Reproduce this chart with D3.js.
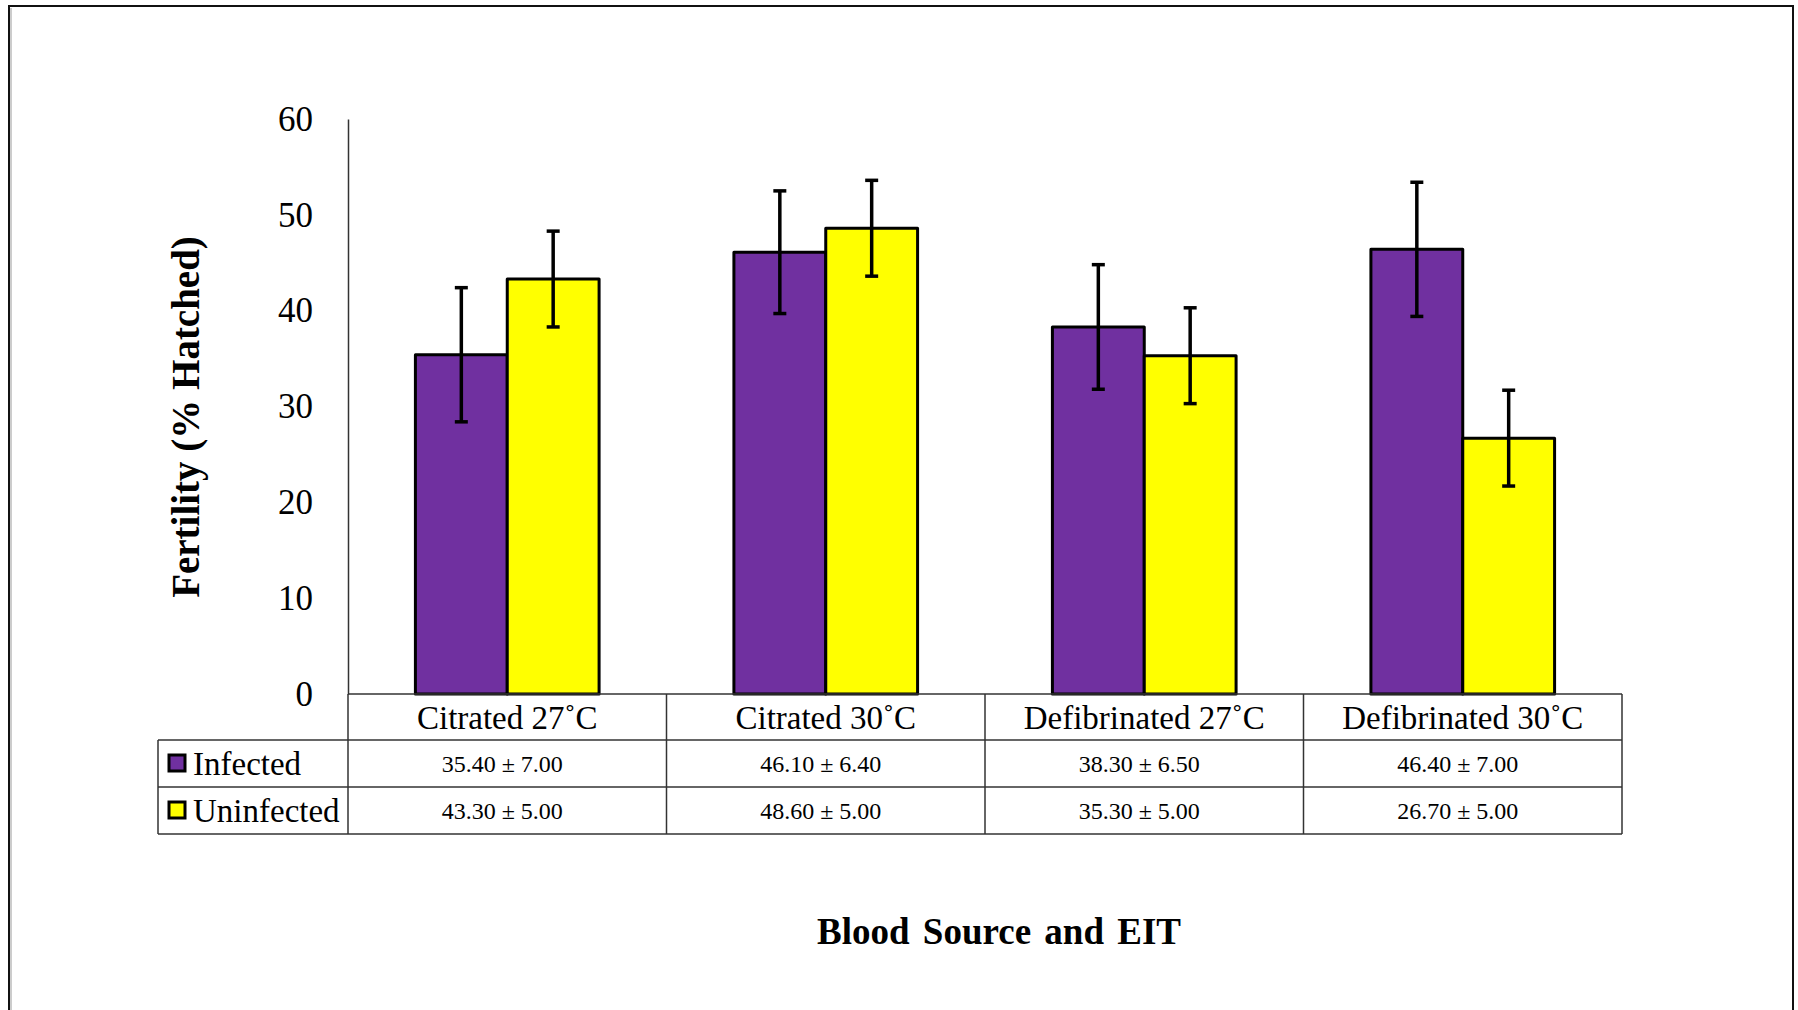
<!DOCTYPE html>
<html>
<head>
<meta charset="utf-8">
<script src="https://cdn.jsdelivr.net/npm/d3@7"></script>
<style>
  html, body { margin: 0; padding: 0; background: #fff; }
  svg { display: block; }
  text { font-family: "Liberation Serif", "Times New Roman", serif; fill: #000; }
</style>
</head>
<body>
<svg id="chart" width="1798" height="1010"></svg>
<script>
// ---- data ----
const categories = ["Citrated 27\u02DAC", "Citrated 30\u02DAC", "Defibrinated 27\u02DAC", "Defibrinated 30\u02DAC"];
const seriesNames = ["Infected", "Uninfected"];
const infectedValues = [35.40, 46.10, 38.30, 46.40];
const infectedErrors = [7.00, 6.40, 6.50, 7.00];
const uninfectedValues = [43.30, 48.60, 35.30, 26.70];
const uninfectedErrors = [5.00, 5.00, 5.00, 5.00];
const seriesColors = ["#7030A0", "#FFFF00"];
const yTicks = [0, 10, 20, 30, 40, 50, 60];
const yTitle = "Fertility (% Hatched)";
const xTitle = "Blood Source and EIT";

const series = [
  { name: seriesNames[0], values: infectedValues, errors: infectedErrors, color: seriesColors[0] },
  { name: seriesNames[1], values: uninfectedValues, errors: uninfectedErrors, color: seriesColors[1] }
];

// ---- layout ----
const svg = d3.select("#chart");
const plotLeft = 348, plotRight = 1622, plotTop = 119, plotBottom = 694;
const tableLeft = 158;
const headerH = 46, rowH = 47;
const lineColor = "#333";

// frame
svg.append("rect").attr("x", 9).attr("y", 6).attr("width", 1784).attr("height", 1030)
  .attr("fill", "none").attr("stroke", "#111").attr("stroke-width", 2);
svg.append("line").attr("x1", 11).attr("x2", 11).attr("y1", 8).attr("y2", 1010)
  .attr("stroke", "#ccc").attr("stroke-width", 2);

// scales
const y = d3.scaleLinear().domain([0, 60]).range([plotBottom, plotTop]);
const x0 = d3.scaleBand().domain(categories).range([plotLeft, plotRight]).padding(0);
const x1 = d3.scaleBand().domain(seriesNames).range([0, x0.bandwidth()])
  .paddingInner(0).paddingOuter(0.734);

// y axis
const yAxis = d3.axisLeft(y).tickValues(yTicks).tickSize(0).tickPadding(35).tickFormat(d3.format("d"));
const yg = svg.append("g").attr("transform", `translate(${plotLeft},0)`).call(yAxis);
yg.select(".domain").attr("stroke", lineColor).attr("stroke-width", 1.5);
yg.selectAll("text").style("font-family", "'Liberation Serif', serif").style("font-size", "35px")
  .attr("fill", "#000");

// bars
const groups = svg.append("g").selectAll("g").data(series).join("g");
groups.selectAll("rect").data(s => s.values.map((v, i) => ({ s, v, i })))
  .join("rect")
  .attr("x", d => x0(categories[d.i]) + x1(d.s.name))
  .attr("y", d => y(d.v))
  .attr("width", x1.bandwidth())
  .attr("height", d => y(0) - y(d.v))
  .attr("fill", d => d.s.color)
  .attr("stroke", "#000").attr("stroke-width", 3).attr("stroke-linejoin", "round");

// error bars
const capW = 13;
series.forEach(s => {
  s.values.forEach((v, i) => {
    const cx = x0(categories[i]) + x1(s.name) + x1.bandwidth() / 2;
    const e = s.errors[i];
    const g = svg.append("g").attr("stroke", "#000").attr("stroke-width", 3.5);
    g.append("line").attr("x1", cx).attr("x2", cx).attr("y1", y(v + e)).attr("y2", y(v - e));
    g.append("line").attr("x1", cx - capW / 2).attr("x2", cx + capW / 2).attr("y1", y(v + e)).attr("y2", y(v + e));
    g.append("line").attr("x1", cx - capW / 2).attr("x2", cx + capW / 2).attr("y1", y(v - e)).attr("y2", y(v - e));
  });
});

// data table
const table = svg.append("g").attr("stroke", lineColor).attr("stroke-width", 1.5);
const row1 = plotBottom + headerH, row2 = row1 + rowH, row3 = row2 + rowH;
table.append("line").attr("x1", plotLeft).attr("x2", plotRight).attr("y1", plotBottom).attr("y2", plotBottom);
[row1, row2, row3].forEach(yy => {
  table.append("line").attr("x1", tableLeft).attr("x2", plotRight).attr("y1", yy).attr("y2", yy);
});
const colEdges = categories.map(c => x0(c)).concat([plotRight]);
colEdges.forEach(xx => {
  table.append("line").attr("x1", xx).attr("x2", xx).attr("y1", plotBottom).attr("y2", row3);
});
table.append("line").attr("x1", tableLeft).attr("x2", tableLeft).attr("y1", row1).attr("y2", row3);

// category labels
svg.append("g").selectAll("text").data(categories).join("text")
  .attr("x", d => x0(d) + x0.bandwidth() / 2)
  .attr("y", plotBottom + headerH / 2)
  .attr("dy", "0.35em")
  .attr("text-anchor", "middle")
  .style("font-size", "33px")
  .text(d => d);

// values rows
const fmt = d3.format(".2f");
series.forEach((s, si) => {
  const rowTop = row1 + si * rowH;
  svg.append("g").selectAll("text").data(s.values).join("text")
    .attr("x", (d, i) => x0(categories[i]) + x0.bandwidth() / 2 - 5)
    .attr("y", rowTop + rowH / 2)
    .attr("dy", "0.35em")
    .attr("text-anchor", "middle")
    .style("font-size", "24px")
    .text((d, i) => `${fmt(d)} \u00B1 ${fmt(s.errors[i])}`);
  svg.append("rect")
    .attr("x", 169).attr("y", rowTop + rowH / 2 - 8.5)
    .attr("width", 16).attr("height", 16)
    .attr("fill", s.color).attr("stroke", "#000").attr("stroke-width", 3);
  svg.append("text")
    .attr("x", 193).attr("y", rowTop + rowH / 2)
    .attr("dy", "0.35em")
    .style("font-size", "33px")
    .text(s.name);
});

// axis titles
svg.append("text")
  .attr("x", 999).attr("y", 931).attr("dy", "0.35em")
  .attr("text-anchor", "middle")
  .style("font-size", "37px").style("font-weight", "bold")
  .style("word-spacing", "4px")
  .text(xTitle);

svg.append("text")
  .attr("transform", "translate(185,417) rotate(-90)")
  .attr("dy", "0.35em")
  .attr("text-anchor", "middle")
  .style("font-size", "39px").style("font-weight", "bold")
  .text(yTitle);
</script>
</body>
</html>
